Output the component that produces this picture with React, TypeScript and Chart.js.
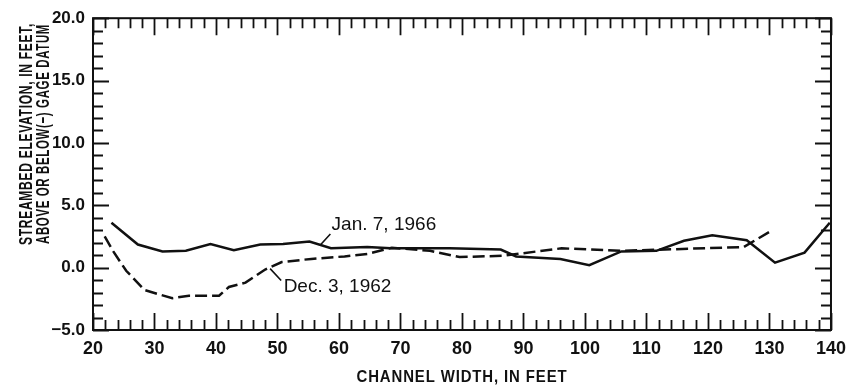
import React, { useEffect, useRef } from "react";
import { Chart, registerables } from "chart.js";
Chart.register(...registerables);

// Jan. 7, 1966 profile (solid)
const jan1966X = [23.0, 27.3, 31.3, 35.1, 39.1, 42.9, 47.2, 50.9, 55.2, 58.7, 64.6, 68.4, 78.0, 86.3, 88.8, 96.0, 100.7, 105.9, 111.6, 116.1, 120.7, 126.3, 130.9, 135.7, 139.8];
const jan1966Y = [3.6, 1.85, 1.3, 1.35, 1.9, 1.4, 1.85, 1.9, 2.1, 1.55, 1.65, 1.55, 1.55, 1.45, 0.9, 0.7, 0.2, 1.3, 1.35, 2.15, 2.6, 2.2, 0.4, 1.2, 3.6];

// Dec. 3, 1962 profile (dashed)
const dec1962X = [21.9, 23.3, 25.4, 28.4, 32.9, 35.6, 40.5, 42.1, 44.8, 48.0, 50.7, 55.5, 60.9, 64.6, 68.6, 74.8, 79.6, 86.6, 96.2, 105.9, 125.8, 130.1];
const dec1962Y = [2.5, 1.3, -0.25, -1.8, -2.45, -2.25, -2.25, -1.55, -1.2, -0.15, 0.45, 0.7, 0.9, 1.1, 1.6, 1.35, 0.85, 0.95, 1.55, 1.35, 1.65, 2.9];

const xMin = 20, xMax = 140, xMajor = 10, xMinor = 2;
const yMin = -5, yMax = 20, yMajor = 5, yMinor = 1;

const xTitle = "CHANNEL WIDTH, IN FEET";
const yTitleLines = ["STREAMBED ELEVATION, IN FEET,", "ABOVE OR BELOW(\u2212) GAGE DATUM"];

// annotations in data coordinates: text anchor (left, middle) and leader line
const annoTexts = ["Jan. 7, 1966", "Dec. 3, 1962"];
const annoAnchorX = [58.8, 51.0];
const annoAnchorY = [3.41, -1.51];
const leaderFromX = [57.0, 48.8];
const leaderFromY = [1.83, -0.08];
const leaderToX = [58.6, 50.6];
const leaderToY = [2.7, -1.03];

const SANS = "'Liberation Sans', Arial, sans-serif";

function fittedText(ctx: any, text: string, cx: number, cy: number, rot: number, target: number) {
  const w = ctx.measureText(text).width;
  ctx.save();
  ctx.translate(cx, cy);
  ctx.rotate(rot);
  ctx.scale(target / w, 1);
  ctx.fillText(text, 0, 0);
  ctx.restore();
}

const framePlugin = {
  id: "framePlugin",
  afterDraw(chart: any) {
    const { ctx, chartArea, scales } = chart;
    const { left, right, top, bottom } = chartArea;
    const xs = scales.x, ys = scales.y;
    ctx.save();
    ctx.strokeStyle = "#111";
    ctx.lineWidth = 2;
    ctx.strokeRect(left, top, right - left, bottom - top);
    ctx.lineWidth = 1.8;
    ctx.beginPath();
    for (let v = xMin; v <= xMax + 1e-9; v += xMinor) {
      const px = Math.round(xs.getPixelForValue(v)) + 0.5;
      const len = Math.abs(v % xMajor) < 1e-9 ? 17 : 10;
      ctx.moveTo(px, bottom); ctx.lineTo(px, bottom - len);
      ctx.moveTo(px, top); ctx.lineTo(px, top + len);
    }
    for (let v = yMin; v <= yMax + 1e-9; v += yMinor) {
      const py = Math.round(ys.getPixelForValue(v)) + 0.5;
      const len = Math.abs(v % yMajor) < 1e-9 ? 16 : 10;
      ctx.moveTo(left, py); ctx.lineTo(left + len, py);
      ctx.moveTo(right, py); ctx.lineTo(right - len, py);
    }
    ctx.stroke();

    // leaders
    ctx.lineWidth = 1.6;
    ctx.beginPath();
    for (let i = 0; i < annoTexts.length; i++) {
      ctx.moveTo(xs.getPixelForValue(leaderFromX[i]), ys.getPixelForValue(leaderFromY[i]));
      ctx.lineTo(xs.getPixelForValue(leaderToX[i]), ys.getPixelForValue(leaderToY[i]));
    }
    ctx.stroke();

    ctx.fillStyle = "#111";
    ctx.font = `19px ${SANS}`;
    ctx.textAlign = "left";
    ctx.textBaseline = "middle";
    for (let i = 0; i < annoTexts.length; i++) {
      ctx.fillText(annoTexts[i], xs.getPixelForValue(annoAnchorX[i]), ys.getPixelForValue(annoAnchorY[i]));
    }

    // axis titles (condensed to match the original narrow lettering)
    ctx.font = `bold 17px ${SANS}`;
    ctx.textAlign = "center";
    (ctx as any).letterSpacing = "1px";
    fittedText(ctx, xTitle, (left + right) / 2, 377, 0, 211);
    ctx.font = `bold 18px ${SANS}`;
    fittedText(ctx, yTitleLines[0], 27.5, 134, -Math.PI / 2, 222);
    fittedText(ctx, yTitleLines[1], 44, 134, -Math.PI / 2, 220);
    ctx.restore();
  },
};

export default function App() {
  const ref = useRef<HTMLCanvasElement>(null);
  useEffect(() => {
    const canvas = ref.current!;
    const chart = new Chart(canvas, {
      type: "line",
      data: {
        datasets: [
          {
            label: "Jan. 7, 1966",
            data: jan1966X.map((x, i) => ({ x, y: jan1966Y[i] })),
            borderColor: "#111",
            borderWidth: 2.5,
            pointRadius: 0,
            tension: 0,
            fill: false,
          },
          {
            label: "Dec. 3, 1962",
            data: dec1962X.map((x, i) => ({ x, y: dec1962Y[i] })),
            borderColor: "#111",
            borderWidth: 2.5,
            borderDash: [12, 5],
            pointRadius: 0,
            tension: 0,
            fill: false,
          },
        ],
      },
      options: {
        animation: false,
        responsive: false,
        devicePixelRatio: 1,
        layout: { padding: { left: 0, right: 15, top: 15, bottom: 0 } },
        plugins: { legend: { display: false }, tooltip: { enabled: false } },
        scales: {
          x: {
            type: "linear",
            min: xMin,
            max: xMax,
            grid: { display: false, drawTicks: false },
            border: { display: false },
            ticks: {
              stepSize: xMajor,
              autoSkip: false,
              maxRotation: 0,
              padding: 8,
              color: "#111",
              font: { family: SANS, size: 18, weight: "bold" },
            },
            afterFit: (s: any) => { s.height = 55; },
          },
          y: {
            type: "linear",
            min: yMin,
            max: yMax,
            grid: { display: false, drawTicks: false },
            border: { display: false },
            ticks: {
              stepSize: yMajor,
              autoSkip: false,
              padding: 8,
              color: "#111",
              font: { family: SANS, size: 17, weight: "bold" },
              callback: (v: any) => (v < 0 ? "\u2212" + Math.abs(v).toFixed(1) : Number(v).toFixed(1)),
            },
            afterFit: (s: any) => { s.width = 93; },
          },
        },
      },
      plugins: [framePlugin],
    });
    return () => chart.destroy();
  }, []);
  return (
    <div style={{ position: "fixed", left: 0, top: 0, width: 854, height: 385, background: "#fff" }}>
      <canvas ref={ref} width={854} height={385} />
    </div>
  );
}
